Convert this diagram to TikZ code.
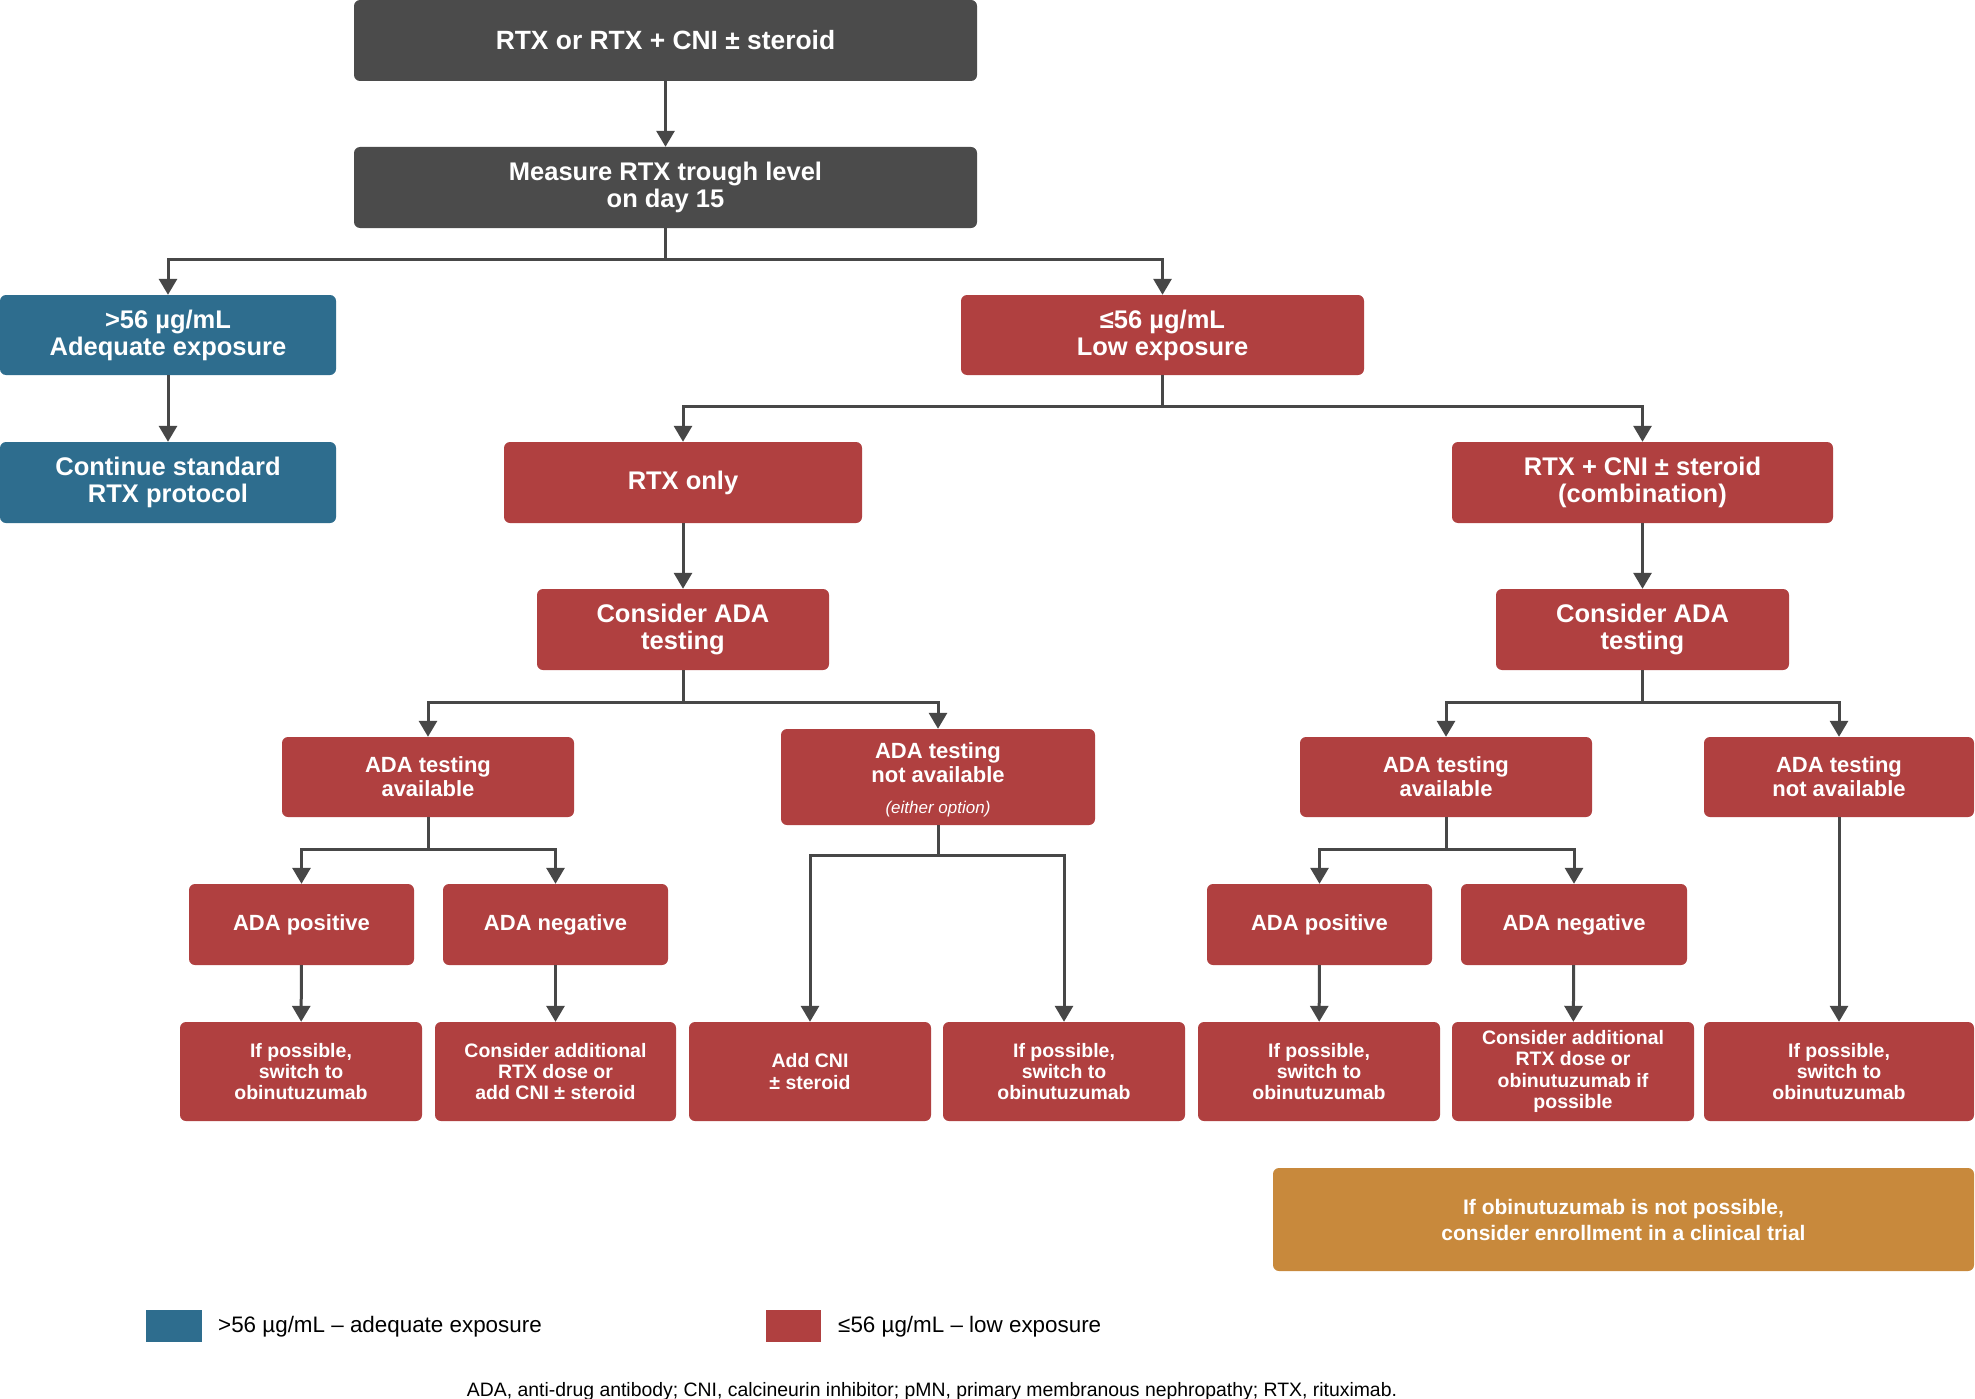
\documentclass[tikz,border=0pt]{standalone}
\usepackage{fontspec}
\setmainfont{Liberation Sans}
\usetikzlibrary{arrows.meta}
\definecolor{dgray}{HTML}{4B4B4B}
\definecolor{cblue}{HTML}{2E6D8E}
\definecolor{cred}{HTML}{B04040}
\definecolor{corange}{HTML}{C8893C}
\definecolor{cline}{HTML}{474747}
\begin{document}
\begin{tikzpicture}[x=1pt,y=-1pt,
  box/.style={rounded corners=6pt, inner sep=0pt, align=center, text=white},
  sz/.style 2 args={minimum width=#1pt, minimum height=#2pt},
  big/.style={font=\fontsize{25.5pt}{27pt}\selectfont\bfseries},
  mid/.style={font=\fontsize{22pt}{24pt}\selectfont\bfseries},
  small/.style={font=\fontsize{19.5pt}{21.4pt}\selectfont\bfseries},
  darkbox/.style={box, fill=dgray, big},
  bluebox/.style={box, fill=cblue, big},
  redbox/.style={box, fill=cred},
  orangebox/.style={box, fill=corange, font=\fontsize{21pt}{26pt}\selectfont\bfseries},
  arr/.style={draw=cline, line width=3pt, -{Triangle[width=18pt,length=16pt]}},
]
\fill[white] (0,0) rectangle (1975,1399);
\useasboundingbox (0,0) rectangle (1975,1399);

% top
\node[darkbox, sz={623}{81}, font=\fontsize{26.4pt}{28pt}\selectfont\bfseries] (top) at (665.5,40.5) {RTX or RTX + CNI ± steroid};
\node[darkbox, sz={623}{81}] (measure) at (665.5,187.5) {Measure RTX trough level\\on day 15};

% level 1
\node[bluebox, sz={336}{80}] (adeq) at (168,335) {>56 µg/mL\\Adequate exposure};
\node[bluebox, sz={336}{81}] (cont) at (168,482.5) {Continue standard\\RTX protocol};
\node[redbox, big, sz={403}{80}] (low) at (1162.5,335) {≤56 µg/mL\\Low exposure};

% level 2
\node[redbox, big, sz={358}{81}] (rtxonly) at (683,482.5) {RTX only};
\node[redbox, big, sz={381}{81}] (combo) at (1642.5,482.5) {RTX + CNI ± steroid\\(combination)};
\node[redbox, big, sz={292}{81}] (cadaL) at (683,629.5) {Consider ADA\\testing};
\node[redbox, big, sz={293}{81}] (cadaR) at (1642.5,629.5) {Consider ADA\\testing};

% level 3
\node[redbox, mid, sz={292}{80}] (availL) at (428,777) {ADA testing\\available};
\node[redbox, mid, sz={314}{96}] (notavL) at (938,777) {\rule{0pt}{22pt}ADA testing\\not available\\[7.5pt]\fontsize{17pt}{19pt}\selectfont\mdseries\itshape (either option)};
\node[redbox, mid, sz={292}{80}] (availR) at (1446,777) {ADA testing\\available};
\node[redbox, mid, sz={270}{80}] (notavR) at (1839,777) {ADA testing\\not available};

% level 4
\node[redbox, mid, sz={225}{81}] (posL) at (301.5,924.5) {ADA positive};
\node[redbox, mid, sz={225}{81}] (negL) at (555.5,924.5) {ADA negative};
\node[redbox, mid, sz={225}{81}] (posR) at (1319.5,924.5) {ADA positive};
\node[redbox, mid, sz={226}{81}] (negR) at (1574,924.5) {ADA negative};

% bottom row
\node[redbox, small, sz={242}{99}] (b1) at (301,1071.5) {If possible,\\switch to\\obinutuzumab};
\node[redbox, small, sz={241}{99}] (b2) at (555.5,1071.5) {Consider additional\\RTX dose or\\add CNI ± steroid};
\node[redbox, small, sz={242}{99}] (b3) at (810,1071.5) {Add CNI\\± steroid};
\node[redbox, small, sz={242}{99}] (b4) at (1064,1071.5) {If possible,\\switch to\\obinutuzumab};
\node[redbox, small, sz={242}{99}] (b5) at (1319,1071.5) {If possible,\\switch to\\obinutuzumab};
\node[redbox, small, sz={242}{99}] (b6) at (1573,1071.5) {Consider additional\\RTX dose or\\obinutuzumab if\\possible};
\node[redbox, small, sz={270}{99}] (b7) at (1839,1071.5) {If possible,\\switch to\\obinutuzumab};

\node[orangebox, sz={701}{103}] (trial) at (1623.5,1219.5) {If obinutuzumab is not possible,\\consider enrollment in a clinical trial};

% connectors
\draw[arr] (top) -- (measure);
\draw[arr] (measure.south) -- ++(0,31) -| (adeq.north);
\draw[arr] (measure.south) -- ++(0,31) -| (low.north);
\draw[arr] (adeq) -- (cont);
\draw[arr] (low.south) -- ++(0,31) -| (rtxonly.north);
\draw[arr] (low.south) -- ++(0,31) -| (combo.north);
\draw[arr] (rtxonly) -- (cadaL);
\draw[arr] (combo) -- (cadaR);
\draw[arr] (cadaL.south) -- ++(0,32) -| (availL.north);
\draw[arr] (cadaL.south) -- ++(0,32) -| (notavL.north);
\draw[arr] (cadaR.south) -- ++(0,32) -| (availR.north);
\draw[arr] (cadaR.south) -- ++(0,32) -| (notavR.north);
\draw[arr] (availL.south) -- ++(0,32) -| (posL.north);
\draw[arr] (availL.south) -- ++(0,32) -| (negL.north);
\draw[arr] (availR.south) -- ++(0,32) -| (posR.north);
\draw[arr] (availR.south) -- ++(0,32) -| (negR.north);
\draw[arr] (notavL.south) -- ++(0,30) -| (b3.north);
\draw[arr] (notavL.south) -- ++(0,30) -| (b4.north);
\draw[arr] (posL) -- (b1);
\draw[arr] (negL) -- (b2);
\draw[arr] (posR) -- (b5);
\draw[arr] (negR) -- (b6);
\draw[arr] (notavR) -- (b7);

% legend
\node[fill=cblue, inner sep=0pt, minimum width=56pt, minimum height=32pt] (lgblue) at (174,1326) {};
\node[anchor=west, inner sep=0pt, font=\fontsize{22.4pt}{24pt}\selectfont] (lgbluet) at (218,1327) {>56 µg/mL – adequate exposure};
\node[fill=cred, inner sep=0pt, minimum width=55pt, minimum height=32pt] (lgred) at (793.5,1326) {};
\node[anchor=west, inner sep=0pt, font=\fontsize{22.4pt}{24pt}\selectfont] (lgredt) at (838,1327) {≤56 µg/mL – low exposure};

\node[inner sep=0pt, font=\fontsize{19.4pt}{21pt}\selectfont] (foot) at (932,1391) {ADA, anti-drug antibody; CNI, calcineurin inhibitor; pMN, primary membranous nephropathy; RTX, rituximab.};
\end{tikzpicture}
\end{document}
